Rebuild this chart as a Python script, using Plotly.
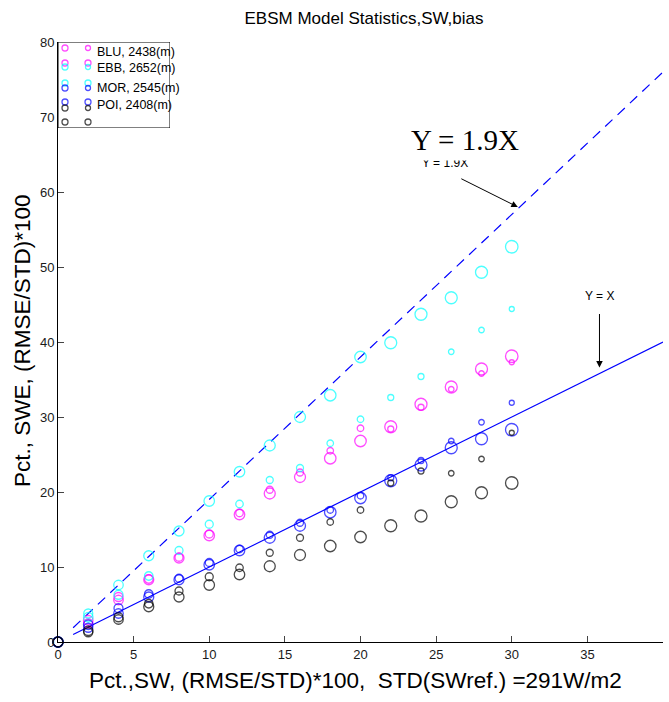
import plotly.graph_objects as go

# Error ratio of the SW forcing (x) and resulting SWE error (y), per station
x_pct = [2, 4, 6, 8, 10, 12, 14, 16, 18, 20, 22, 24, 26, 28, 30]

blu_a = [2.5, 5.6, 8.3, 11.2, 14.2, 17.0, 19.8, 22.0, 24.5, 26.8, 28.7, 31.7, 34.0, 36.4, 38.1]
blu_b = [2.9, 6.0, 8.4, 11.3, 14.4, 17.2, 20.3, 22.6, 25.5, 28.5, 28.4, 31.3, 33.7, 35.8, 37.3]
ebb_a = [3.8, 7.6, 11.5, 14.8, 18.8, 22.7, 26.2, 30.0, 32.9, 38.0, 39.9, 43.7, 45.9, 49.3, 52.7]
ebb_b = [3.3, 6.3, 8.8, 12.2, 15.7, 18.4, 21.6, 23.2, 26.5, 29.7, 32.6, 35.4, 38.7, 41.6, 44.4]
mor_a = [1.9, 3.8, 6.0, 8.3, 10.3, 12.2, 13.9, 15.5, 17.3, 19.2, 21.5, 23.6, 25.9, 27.1, 28.3]
mor_b = [2.3, 4.5, 6.4, 8.5, 10.6, 12.4, 14.3, 15.9, 17.6, 19.5, 21.9, 24.2, 26.8, 29.3, 31.9]
poi_a = [1.3, 3.0, 4.7, 6.0, 7.6, 9.0, 10.1, 11.6, 12.8, 14.0, 15.5, 16.8, 18.7, 19.9, 21.2]
poi_b = [1.5, 3.3, 5.1, 6.8, 8.7, 9.9, 11.9, 13.9, 16.0, 17.6, 21.2, 22.8, 22.5, 24.4, 27.9]

station_names = ["BLU, 2438(m)", "EBB, 2652(m)", "MOR, 2545(m)", "POI, 2408(m)"]
station_colors = ["#ff00ff", "#00ffff", "#0000ff", "#000000"]

ref_x = [1, 40]
slope_dash = 1.9
slope_solid = 1.0

# marker diameters (px) for the two runs of each station
size_a = [9, 9.5, 10, 10, 10.5, 10.5, 11, 11, 11.5, 11.5, 12, 12, 12, 12, 12.5]
size_b = [9.5, 9, 8.5, 8, 8, 7.5, 7, 7, 6.5, 6.5, 6, 6, 5.5, 5.5, 5]

fig = go.Figure()

# reference lines
fig.add_trace(go.Scatter(x=ref_x, y=[slope_dash * v for v in ref_x], mode="lines",
                         line=dict(color="#0000ff", width=1.2, dash="10px,7px"),
                         hoverinfo="skip", showlegend=False))
fig.add_trace(go.Scatter(x=ref_x, y=[slope_solid * v for v in ref_x], mode="lines",
                         line=dict(color="#0000ff", width=1.2),
                         hoverinfo="skip", showlegend=False))

series = [(blu_a, blu_b), (ebb_a, ebb_b), (mor_a, mor_b), (poi_a, poi_b)]
for (ya, yb), col, name in zip(series, station_colors, station_names):
    for yv, sz in ((ya, size_a), (yb, size_b)):
        fig.add_trace(go.Scatter(
            x=[0] + x_pct, y=[0] + yv, mode="markers", name=name,
            marker=dict(symbol="circle-open", color=col, size=[10] + sz,
                        line=dict(color=col, width=1.3)),
            cliponaxis=False, showlegend=False))

# legend box on its own small axes (units = px inside the box)
leg_rows = [(6, 21), (25, 41), (46, 60), (66, 80)]
leg_text_y = [10, 26, 46, 63]
for (r1, r2), col, name, ty in zip(leg_rows, station_colors, station_names, leg_text_y):
    fig.add_trace(go.Scatter(x=[7, 7, 30, 30], y=[r1, r2, r1, r2], mode="markers",
                             xaxis="x2", yaxis="y2", showlegend=False, hoverinfo="skip",
                             marker=dict(symbol="circle-open", color=col, size=[6, 6, 5, 6],
                                         line=dict(color=col, width=1.3))))
    fig.add_annotation(x=37, y=ty, xref="x2", yref="y2", text=name, showarrow=False,
                       xanchor="left", yanchor="middle",
                       font=dict(family="Arial, Liberation Sans", size=12.5, color="#000"))

fig.add_shape(type="rect", xref="x2", yref="y2", x0=0, x1=112, y0=0, y1=86,
              line=dict(color="#000", width=1), fillcolor="white", layer="below")

# annotations for the reference lines
fig.add_annotation(x=26.9, y=66.9, text="Y = 1.9X", showarrow=False,
                   xanchor="center", yanchor="middle",
                   font=dict(family="Arial, Liberation Sans", size=12, color="#000"),
                   yshift=-23, xshift=-20)
fig.add_annotation(x=26.9, y=66.9, text="Y = 1.9X", showarrow=False, bgcolor="white",
                   borderpad=4, xanchor="center", yanchor="middle",
                   font=dict(family="Liberation Serif, Times New Roman", size=29, color="#000"))
fig.add_annotation(x=30.4, y=58.0, ax=-58, ay=-29, text="", showarrow=True,
                   arrowhead=2, arrowsize=1.3, arrowwidth=1, arrowcolor="#000")
fig.add_annotation(x=35.8, y=36.6, ax=0, ay=-55, text="", showarrow=True,
                   arrowhead=2, arrowsize=1.3, arrowwidth=1, arrowcolor="#000")
fig.add_annotation(x=35.8, y=46.2, text="Y = X", showarrow=False,
                   xanchor="center", yanchor="middle",
                   font=dict(family="Arial, Liberation Sans", size=12, color="#000"))

axis_font = dict(family="Arial, Liberation Sans", size=13, color="#1a1a1a")
fig.update_layout(
    width=669, height=702,
    margin=dict(l=58, r=6, t=42, b=60),
    plot_bgcolor="white", paper_bgcolor="white",
    title=dict(text="EBSM Model Statistics,SW,bias", x=364 / 669, xanchor="center",
               y=1 - 18 / 702, yanchor="middle", yref="container",
               font=dict(family="Arial, Liberation Sans", size=17, color="#000")),
    xaxis=dict(range=[0, 40], tickvals=list(range(0, 41, 5)), ticks="inside", ticklen=6,
               showline=True, linecolor="#000", linewidth=1, showgrid=False, zeroline=False,
               tickfont=axis_font, mirror=False),
    yaxis=dict(range=[0, 80], tickvals=list(range(0, 81, 10)), ticks="inside", ticklen=6,
               showline=True, linecolor="#000", linewidth=1, showgrid=False, zeroline=False,
               tickfont=axis_font, mirror=False),
    xaxis2=dict(domain=[0, 112 / 605], range=[0, 112], visible=False, anchor="y2"),
    yaxis2=dict(domain=[1 - 86 / 600, 1], range=[86, 0], visible=False, anchor="x2"),
    showlegend=False,
)

fig.add_annotation(x=(355 - 58) / 605, y=(642 - 680) / 600, xref="paper", yref="paper",
                   xanchor="center", yanchor="middle",
                   text="Pct.,SW, (RMSE/STD)*100,  STD(SWref.) =291W/m2", showarrow=False,
                   font=dict(family="Arial, Liberation Sans", size=22.5, color="#000"))
fig.add_annotation(x=(22 - 58) / 605, y=(642 - 341) / 600, xref="paper", yref="paper",
                   xanchor="center", yanchor="middle",
                   text="Pct., SWE, (RMSE/STD)*100", showarrow=False, textangle=-90,
                   font=dict(family="Arial, Liberation Sans", size=22.5, color="#000"))

fig.write_html("out.html")
